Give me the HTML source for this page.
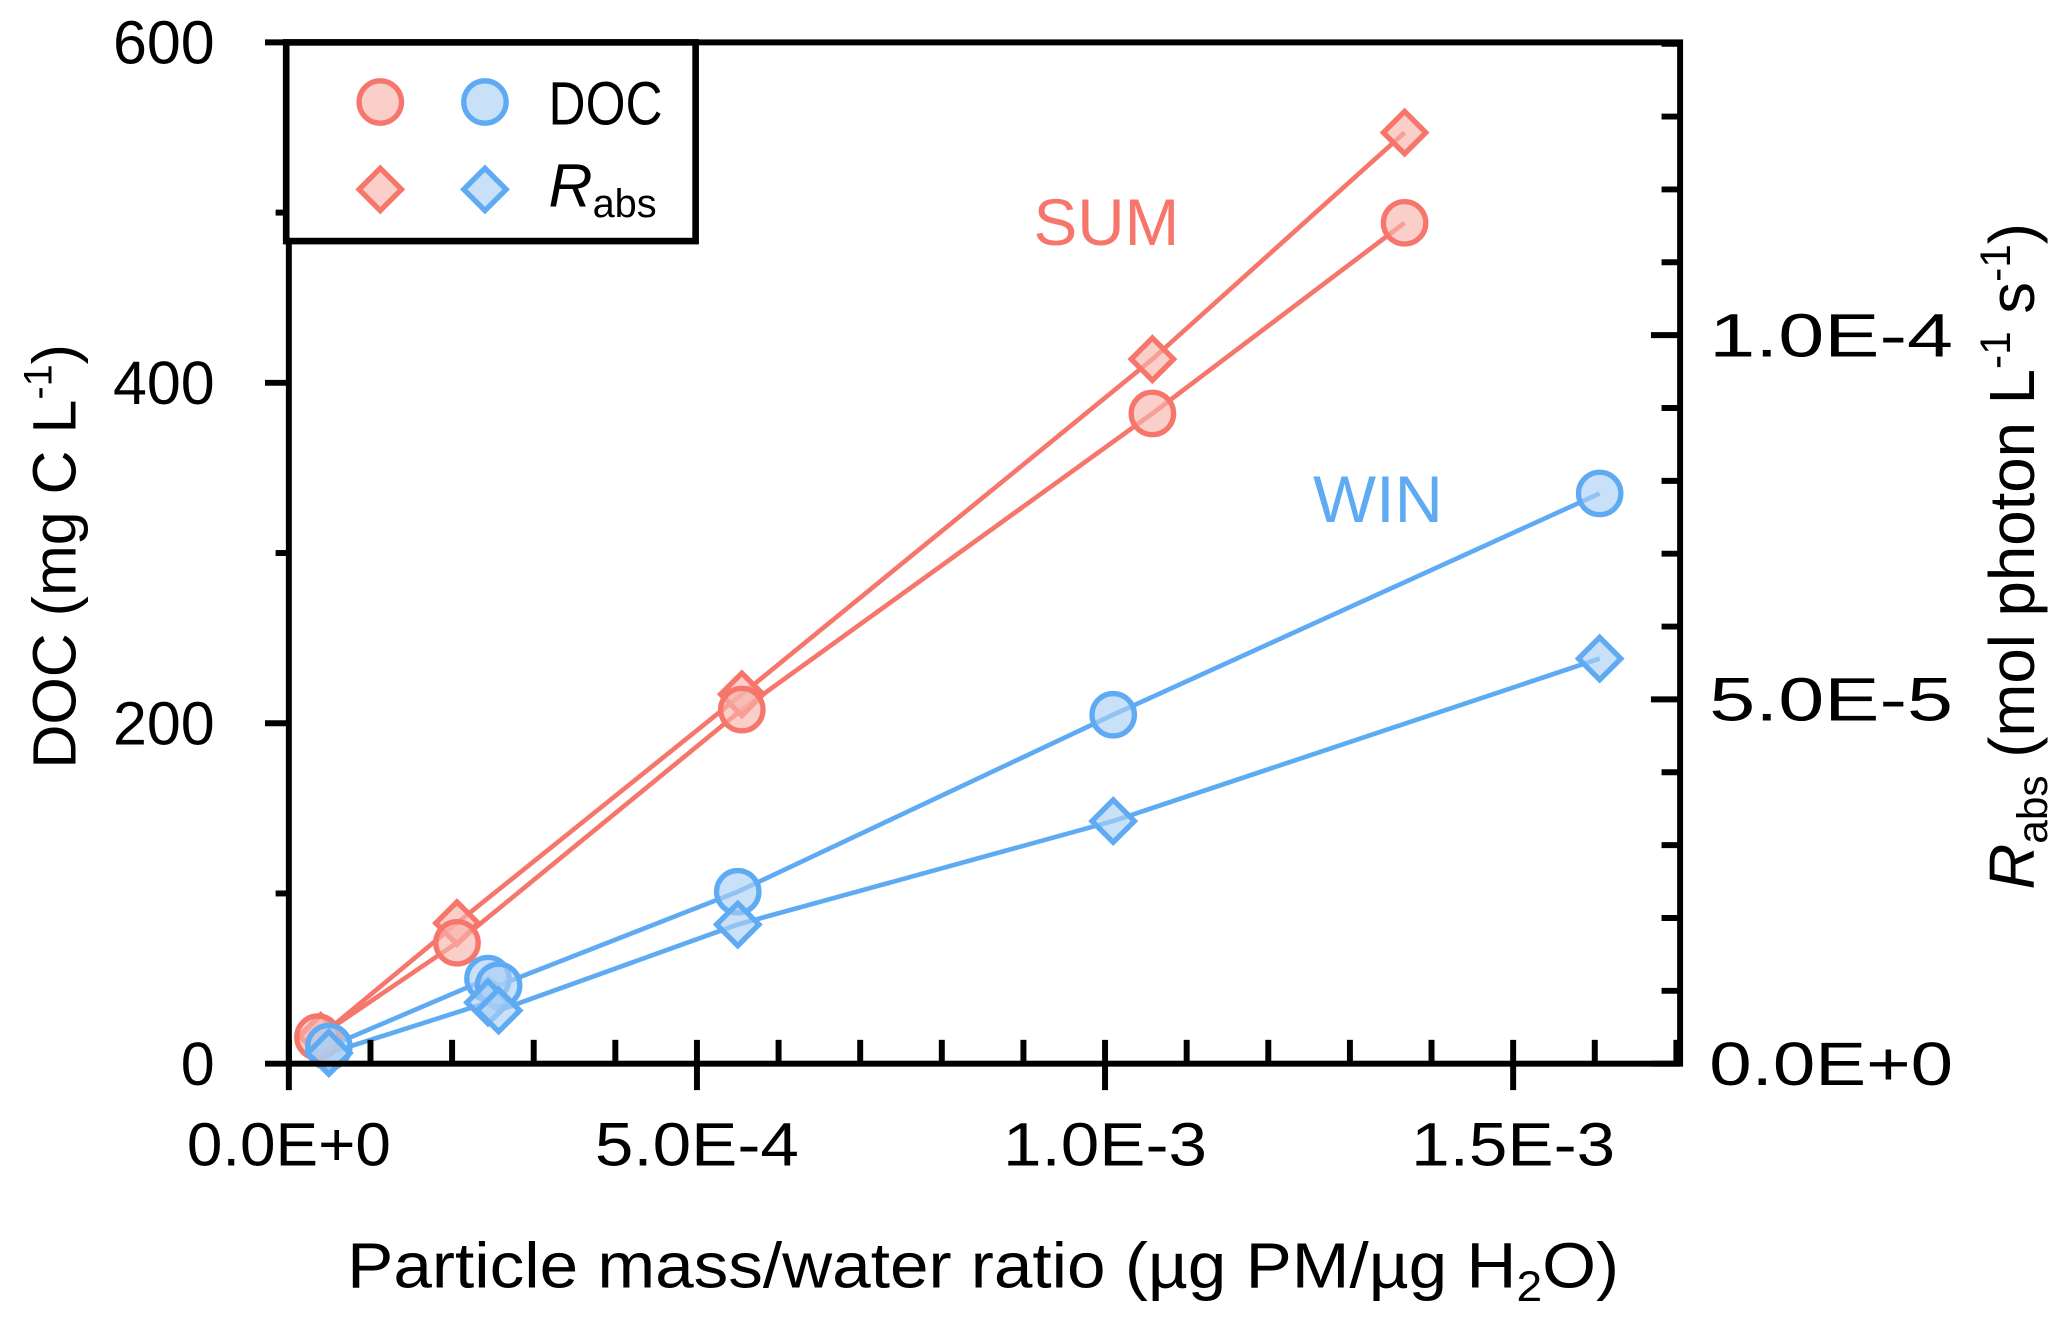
<!DOCTYPE html>
<html><head><meta charset="utf-8"><style>
html,body{margin:0;padding:0;background:#fff}
svg{display:block}
text{font-family:"Liberation Sans",sans-serif}
</style></head><body>
<svg id="chart" width="2067" height="1318" viewBox="0 0 1560 995" preserveAspectRatio="none" xmlns="http://www.w3.org/2000/svg">
<g id="grid"></g>
<g id="series"></g>
<g id="axes"></g>
</svg>
<script>
const sumX=[3.57e-5,2.06e-4,5.55e-4,1.058e-3,1.367e-3];
const sumDOC=[15.6,71,208,382,494];
const sumRabsX=[3.9e-5,2.06e-4,5.55e-4,1.058e-3,1.367e-3];
const sumRabs=[3.8e-6,1.93e-5,5.07e-5,9.67e-5,1.278e-4];
const winX=[4.9e-5,2.44e-4,2.57e-4,5.5e-4,1.01e-3,1.606e-3];
const winDOC=[10,50,46,101,205,335];
const winRabs=[1.45e-6,8.4e-6,7.3e-6,1.91e-5,3.33e-5,5.56e-5];
const xTicks=[0,5e-4,1e-3,1.5e-3];
const xTickLabels=["0.0E+0","5.0E-4","1.0E-3","1.5E-3"];
const yTicks=[0,200,400,600];
const y2Ticks=[0,5e-5,1e-4];
const y2TickLabels=["0.0E+0","5.0E-5","1.0E-4"];

const L=218,R=1268,T=32,B=803;
const X=v=>L+v/1e-3*616;
const Y=v=>B-v*(B-T)/600;
const Y2=v=>B-v/1e-4*550;
const NS="http://www.w3.org/2000/svg";
function mk(tag,attrs,parent){const e=document.createElementNS(NS,tag);for(const k in attrs)e.setAttribute(k,attrs[k]);parent.appendChild(e);return e;}
const S=document.getElementById('series'),A=document.getElementById('axes');
const RED="#F7766B",REDF="rgba(248,180,172,0.65)",BLUE="#5EAAF3",BLUEF="rgba(170,208,245,0.65)";

function line(xs,ys,fy,col,name){
  const pts=xs.map((x,i)=>X(x)+","+fy(ys[i])).join(" ");
  const p=mk('polyline',{points:pts,fill:'none',stroke:col,'stroke-width':3.5},S);
  
  
}
function circles(xs,ys,fy,col,fill,name){
  xs.forEach((x,i)=>{const c=mk('circle',{cx:X(x),cy:fy(ys[i]),r:16,fill:fill,stroke:col,'stroke-width':4},S);
  
  });
}
function diamonds(xs,ys,fy,col,fill,name){
  xs.forEach((x,i)=>{const cx=X(x),cy=fy(ys[i]),d=16;
  const p=mk('polygon',{points:`${cx},${cy-d} ${cx+d},${cy} ${cx},${cy+d} ${cx-d},${cy}`,fill:fill,stroke:col,'stroke-width':4},S);
  
  });
}
line(sumRabsX,sumRabs,Y2,RED,'sum-rabs-line');
line(sumX,sumDOC,Y,RED,'sum-doc-line');
line(winX,winDOC,Y,BLUE,'win-doc-line');
line(winX,winRabs,Y2,BLUE,'win-rabs-line');
diamonds(sumRabsX,sumRabs,Y2,RED,REDF,'sum-rabs-point');
circles(sumX,sumDOC,Y,RED,REDF,'sum-doc-point');
circles(winX,winDOC,Y,BLUE,BLUEF,'win-doc-point');
diamonds(winX,winRabs,Y2,BLUE,BLUEF,'win-rabs-point');

const fr=mk('rect',{x:L,y:T,width:R-L,height:B-T,fill:'none',stroke:'#000','stroke-width':4.5},A);


for(let v=0;v<=600;v+=100){const maj=v%200===0;const t=mk('line',{x1:maj?200:208,x2:L,y1:Y(v),y2:Y(v),stroke:'#000','stroke-width':4.5},A);

}
yTicks.forEach(v=>{const t=mk('text',{x:162,y:Y(v)+16,'font-size':46,'text-anchor':'end'},A);t.textContent=v;

});
for(let i=0;i<=14;i++){const v=i*1e-5;const maj=i%5===0;const t=mk('line',{x1:maj?R-22:R-14,x2:R,y1:Y2(v),y2:Y2(v),stroke:'#000','stroke-width':4.5},A);

}
y2Ticks.forEach((v,i)=>{const t=mk('text',{x:1290,y:Y2(v)+16,'font-size':46,textLength:184,lengthAdjust:'spacingAndGlyphs'},A);t.textContent=y2TickLabels[i];

});
for(let i=0;i<=17;i++){const v=i*1e-4;const maj=i%5===0;const t=mk('line',{x1:X(v),x2:X(v),y1:B-18,y2:maj?B+20:B,stroke:'#000','stroke-width':4.5},A);

}
xTicks.forEach((v,i)=>{const t=mk('text',{x:X(v)-77,y:880,'font-size':46,textLength:154,lengthAdjust:'spacingAndGlyphs'},A);t.textContent=xTickLabels[i];

});
</script>
<svg style="position:absolute;left:0;top:0" width="2067" height="1318" viewBox="0 0 1560 995" preserveAspectRatio="none" xmlns="http://www.w3.org/2000/svg">
<text x="742" y="972" font-size="48" text-anchor="middle" font-family="Liberation Sans, sans-serif" textLength="960" lengthAdjust="spacingAndGlyphs">Particle mass/water ratio (µg PM/µg H<tspan font-size="32" dy="10">2</tspan><tspan dy="-10">O)</tspan></text>
<text transform="translate(57,420) rotate(-90)" font-size="46" text-anchor="middle" font-family="Liberation Sans, sans-serif">DOC (mg C L<tspan font-size="30" dy="-18">-1</tspan><tspan dy="18">)</tspan></text>
<text transform="translate(1535,420) rotate(-90)" font-size="48" text-anchor="middle" font-family="Liberation Sans, sans-serif"><tspan font-style="italic">R</tspan><tspan font-size="32" dy="10">abs</tspan><tspan dy="-10"> (mol photon L</tspan><tspan font-size="32" dy="-18">-1</tspan><tspan dy="18"> s</tspan><tspan font-size="32" dy="-18">-1</tspan><tspan dy="18">)</tspan></text>
<text x="835" y="185" font-size="50" fill="#F7766B" text-anchor="middle" font-family="Liberation Sans, sans-serif" textLength="110" lengthAdjust="spacingAndGlyphs">SUM</text>
<text x="1040" y="394" font-size="50" fill="#5EAAF3" text-anchor="middle" font-family="Liberation Sans, sans-serif" textLength="98" lengthAdjust="spacingAndGlyphs">WIN</text>
<g>
<rect x="216" y="32" width="309" height="150" fill="#fff" stroke="#000" stroke-width="5"/>
<circle cx="287" cy="77" r="16" fill="rgba(248,180,172,0.65)" stroke="#F7766B" stroke-width="4"/>
<circle cx="366" cy="77" r="16" fill="rgba(170,208,245,0.65)" stroke="#5EAAF3" stroke-width="4"/>
<polygon points="287,127 303,143 287,159 271,143" fill="rgba(248,180,172,0.65)" stroke="#F7766B" stroke-width="4"/>
<polygon points="366,127 382,143 366,159 350,143" fill="rgba(170,208,245,0.65)" stroke="#5EAAF3" stroke-width="4"/>
<text x="414" y="94" font-size="46" font-family="Liberation Sans, sans-serif" textLength="86" lengthAdjust="spacingAndGlyphs">DOC</text>
<text x="414" y="156" font-size="46" font-family="Liberation Sans, sans-serif"><tspan font-style="italic">R</tspan><tspan font-size="30" dy="8">abs</tspan></text>
</g>
</svg>
</body></html>
